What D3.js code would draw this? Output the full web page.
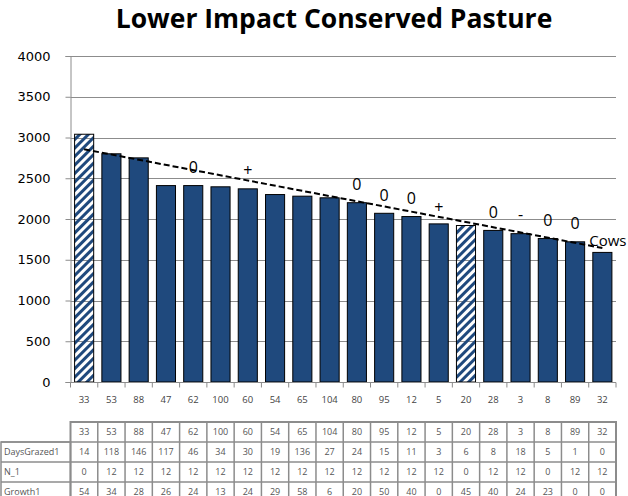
<!DOCTYPE html>
<html>
<head>
<meta charset="utf-8">
<script src="https://cdn.jsdelivr.net/npm/d3@7"></script>
<style>
  body { margin: 0; background: #fff; }
  svg { display: block; font-family: "Open Sans", "Liberation Sans", sans-serif; }
</style>
</head>
<body>
<svg id="chart" width="628" height="496"></svg>
<script>
// chart data
var categories = ["33", "53", "88", "47", "62", "100", "60", "54", "65", "104", "80", "95", "12", "5", "20", "28", "3", "8", "89", "32"];
var pasture    = [3040, 2800, 2750, 2410, 2410, 2395, 2370, 2300, 2280, 2260, 2200, 2070, 2030, 1940, 1920, 1860, 1820, 1760, 1720, 1590];
var hatched    = [0, 14];                       // bar indexes drawn with stripes
var trendEnds  = [2855, 1644];                  // dashed trend, first to last category
var markIndex  = [4, 6, 10, 11, 12, 13, 15, 16, 17, 18];
var markText   = ["0", "+", "0", "0", "0", "+", "0", "-", "0", "0"];
var markValue  = [2638, 2601, 2429, 2294, 2258, 2147, 2086, 2061, 1988, 1951];
var yTicks     = [0, 500, 1000, 1500, 2000, 2500, 3000, 3500, 4000];
var rowNames   = ["DaysGrazed1", "N_1", "Growth1"];
var daysGrazed = [14, 118, 146, 117, 46, 34, 30, 19, 136, 27, 24, 15, 11, 3, 6, 8, 18, 5, 1, 0];
var nOne       = [0, 12, 12, 12, 12, 12, 12, 12, 12, 12, 12, 12, 12, 12, 0, 12, 12, 0, 12, 12];
var growth     = [54, 34, 28, 26, 24, 13, 24, 29, 58, 6, 20, 50, 40, 0, 45, 40, 24, 23, 0, 0];

var svg = d3.select("#chart");
var plot = { left: 70.5, right: 616, top: 56, bottom: 382 };
var navy = "#1f497d";

var x = d3.scaleBand().domain(d3.range(categories.length)).range([plot.left, plot.right]).paddingInner(0.3).paddingOuter(0.15);
var xCat = d3.scaleBand().domain(d3.range(categories.length)).range([plot.left, plot.right]);
var y = d3.scaleLinear().domain([0, 4000]).range([plot.bottom, plot.top]);

var defs = svg.append("defs");
defs.append("pattern")
  .attr("id", "stripes")
  .attr("patternUnits", "userSpaceOnUse")
  .attr("width", 6).attr("height", 6)
  .attr("patternTransform", "rotate(45)")
  .append("rect")
    .attr("width", 3).attr("height", 6)
    .attr("fill", navy);

// title
svg.append("text")
  .attr("x", 334).attr("y", 28)
  .attr("text-anchor", "middle")
  .style("font-size", "26.5px").style("font-weight", "bold")
  .text("Lower Impact Conserved Pasture");

// gridlines
svg.append("g").selectAll("line").data(yTicks.filter(function(d) { return d > 0; }))
  .enter().append("line")
    .attr("x1", plot.left).attr("x2", plot.right)
    .attr("y1", function(d) { return Math.round(y(d)) + 0.5; })
    .attr("y2", function(d) { return Math.round(y(d)) + 0.5; })
    .attr("stroke", "#8c8c8c").attr("stroke-width", 1);

// y axis
var yAxis = svg.append("g")
  .attr("transform", "translate(" + plot.left + ",0)")
  .call(d3.axisLeft(y).tickValues(yTicks).tickFormat(d3.format("d")).tickSize(5).tickPadding(15));
yAxis.select(".domain").attr("stroke", "#8c8c8c");
yAxis.selectAll(".tick line").attr("stroke", "#8c8c8c");
yAxis.selectAll("text").style("font-size", "13px").attr("fill", "#000")
  .style("font-family", "'DejaVu Sans', sans-serif");

// bars
svg.append("g").selectAll("rect").data(pasture)
  .enter().append("rect")
    .attr("x", function(d, i) { return x(i); })
    .attr("y", function(d) { return y(d); })
    .attr("width", x.bandwidth())
    .attr("height", function(d) { return y(0) - y(d); })
    .attr("fill", function(d, i) { return hatched.indexOf(i) >= 0 ? "url(#stripes)" : navy; })
    .attr("stroke", "#000").attr("stroke-width", 1);

// x axis with ticks between categories
var xAxisG = svg.append("g").attr("transform", "translate(0," + (plot.bottom + 0.5) + ")");
xAxisG.append("line").attr("x1", plot.left).attr("x2", plot.right).attr("stroke", "#8c8c8c");
xAxisG.selectAll("line.tk").data(d3.range(categories.length + 1))
  .enter().append("line")
    .attr("class", "tk")
    .attr("x1", function(i) { return plot.left + i * xCat.bandwidth(); })
    .attr("x2", function(i) { return plot.left + i * xCat.bandwidth(); })
    .attr("y1", 0).attr("y2", 5)
    .attr("stroke", "#8c8c8c");
xAxisG.selectAll("text").data(categories)
  .enter().append("text")
    .attr("x", function(d, i) { return xCat(i) + xCat.bandwidth() / 2; })
    .attr("y", 20)
    .attr("text-anchor", "middle")
    .style("font-size", "9.5px").attr("fill", "#444")
    .text(function(d) { return d; });

// dashed trend
svg.append("line")
  .attr("x1", x(0) + x.bandwidth() / 2).attr("y1", y(trendEnds[0]))
  .attr("x2", x(categories.length - 1) + x.bandwidth() / 2).attr("y2", y(trendEnds[1]))
  .attr("stroke", "#000").attr("stroke-width", 2).attr("stroke-dasharray", "6,3");

// point marks
svg.append("g").selectAll("text").data(markIndex)
  .enter().append("text")
    .attr("x", function(d) { return xCat(d) + xCat.bandwidth() / 2; })
    .attr("y", function(d, i) { return y(markValue[i]) + 6; })
    .attr("text-anchor", "middle")
    .style("font-size", "16px").attr("fill", "#000")
    .text(function(d, i) { return markText[i]; });

svg.append("text")
  .attr("x", xCat(categories.length - 1) + 0.5).attr("y", y(1742) + 6)
  .style("font-size", "15px").attr("fill", "#000")
  .text("Cows");

// data table
var table = svg.append("g").style("font-size", "9px");
var rowTop = 422, rowH = 20;
var rows = [daysGrazed, nOne, growth];
var border = "#8c8c8c";

table.append("rect")
  .attr("x", plot.left).attr("y", rowTop)
  .attr("width", plot.right - plot.left).attr("height", rowH * 4)
  .attr("fill", "none").attr("stroke", border).attr("stroke-width", 2);
table.append("rect")
  .attr("x", 1).attr("y", rowTop + rowH)
  .attr("width", plot.left - 1).attr("height", rowH * 3)
  .attr("fill", "none").attr("stroke", border).attr("stroke-width", 1.5);

d3.range(1, 4).forEach(function(r) {
  table.append("line")
    .attr("x1", 1).attr("x2", plot.right)
    .attr("y1", rowTop + r * rowH).attr("y2", rowTop + r * rowH)
    .attr("stroke", border).attr("stroke-width", 1.5);
});
d3.range(1, categories.length).forEach(function(i) {
  table.append("line")
    .attr("x1", plot.left + i * xCat.bandwidth()).attr("x2", plot.left + i * xCat.bandwidth())
    .attr("y1", rowTop).attr("y2", rowTop + rowH * 4)
    .attr("stroke", border).attr("stroke-width", 1.5);
});

table.selectAll("text.hd").data(categories)
  .enter().append("text")
    .attr("class", "hd")
    .attr("x", function(d, i) { return xCat(i) + xCat.bandwidth() / 2; })
    .attr("y", rowTop + rowH / 2 + 3)
    .attr("text-anchor", "middle").attr("fill", "#555")
    .text(function(d) { return d; });

rows.forEach(function(vals, r) {
  var ry = rowTop + (r + 1) * rowH + rowH / 2 + 3;
  table.append("text")
    .attr("x", 4).attr("y", ry).attr("fill", "#555")
    .text(rowNames[r]);
  table.selectAll("text.r" + r).data(vals)
    .enter().append("text")
      .attr("class", "r" + r)
      .attr("x", function(d, i) { return xCat(i) + xCat.bandwidth() / 2; })
      .attr("y", ry)
      .attr("text-anchor", "middle").attr("fill", "#555")
      .text(function(d) { return d; });
});
</script>
</body>
</html>
